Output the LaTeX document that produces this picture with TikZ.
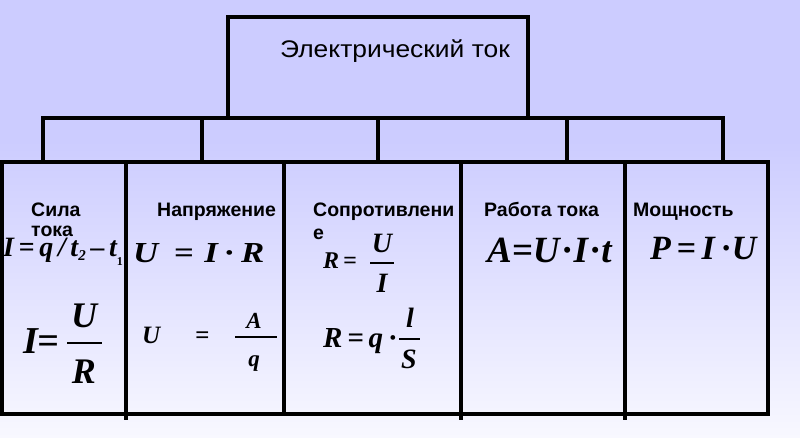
\documentclass[tikz,border=0pt]{standalone}
\usepackage{fontspec}
\setmainfont{Liberation Sans}
\newfontfamily\tnr{Liberation Serif}
\definecolor{bgtop}{RGB}{204,204,255}
\definecolor{bgbot}{RGB}{248,248,255}
\tikzset{
  frame/.style={line width=4.5pt, line cap=rect},
  lbl/.style={inner sep=0pt, anchor=base west, font=\fontsize{19.5}{21}\selectfont\bfseries},
  ttl/.style={inner sep=0pt, anchor=base west, font=\fontsize{24}{26}\selectfont},
  frm/.style={inner sep=0pt, anchor=base west},
  frc/.style={inner sep=0pt, anchor=base},
  bar/.style={line width=1.3pt},
}
\newcommand{\ff}[1]{\fontsize{#1}{#1}\selectfont\tnr\bfseries\itshape}
\newcommand{\md}{\textup{·}}
\begin{document}
\begin{tikzpicture}[x=1pt,y=-1pt]
\useasboundingbox (0,0) rectangle (800,438);
% background
\fill[bgtop] (0,0) rectangle (800,140);
\shade[top color=bgtop, bottom color=bgbot] (0,140) rectangle (800,438);
% frames
\draw[frame] (228,118) -- (228,17) -- (528,17) -- (528,118);
\draw[frame] (43,162) -- (43,118) -- (723,118) -- (723,162);
\foreach \x in {202,378,567} \draw[frame] (\x,118) -- (\x,162);
\draw[frame] (1.5,162) rectangle (768,414);
\draw[frame, line cap=butt] (126,162) -- (126,420);
\draw[frame] (284,162) -- (284,414);
\draw[frame, line cap=butt] (461,162) -- (461,420);
\draw[frame, line cap=butt] (625,162) -- (625,420);
% title
\node[ttl, xscale=1.1] (title) at (280,58) {Электрический ток};
% labels
\node[lbl] (sila) at (31,217) {Сила};
\node[lbl] (toka) at (31,237) {тока};
\node[lbl] (napr) at (157,217) {Напряжение};
\node[lbl] (sopr) at (313,217) {Сопротивлени};
\node[lbl] (sopre) at (313,240) {е};
\node[lbl] (rab) at (484,217) {Работа тока};
\node[lbl] (mosh) at (633,217) {Мощность};
% formulas: current
\node[frm] (f1) at (3,257) {\ff{28}I\,=\,q\,/\,t\raisebox{-4pt}{\fontsize{15}{15}\selectfont 2}\,\textup{\textendash}\,t\raisebox{-9pt}{\fontsize{12}{12}\selectfont\upshape 1}};
\node[frm] (f2a) at (23,353) {\ff{38}I=};
\draw[bar] (67,343) -- (102,343);
\node[frc] (f2n) at (84,327) {\ff{36}U};
\node[frc] (f2d) at (84,383) {\ff{36}R};
% voltage
\node[frm, xscale=1.2] (f3) at (133,262) {\ff{29}U\hspace{0.45em}=\hspace{0.3em}I\,\md\,R};
\node[frm] (f4a) at (142,343) {\ff{25}U};
\node[frm] (f4b) at (195,343) {\ff{25}=};
\draw[bar] (235,337) -- (277,337);
\node[frc] (f4n) at (254,328) {\ff{23}A};
\node[frc] (f4d) at (254,366) {\ff{23}q};
% resistance
\node[frm] (f5a) at (323,269) {\ff{24}R\,=};
\draw[bar] (370,263) -- (394,263);
\node[frc] (f5n) at (382,253) {\ff{28}U};
\node[frc] (f5d) at (382,292) {\ff{28}I};
\node[frm] (f6a) at (323,347) {\ff{29}R\,=\,q\,\md};
\draw[bar] (399,339) -- (420,339);
\node[frc] (f6n) at (410,327) {\ff{28}l};
\node[frc] (f6d) at (409,368) {\ff{28}S};
% work and power
\node[frm] (f7) at (487,263) {\ff{37}A=U\md I\md t};
\node[frm] (f8) at (650,260) {\ff{34}P\,=\,I\,\md U};
\end{tikzpicture}
\end{document}
